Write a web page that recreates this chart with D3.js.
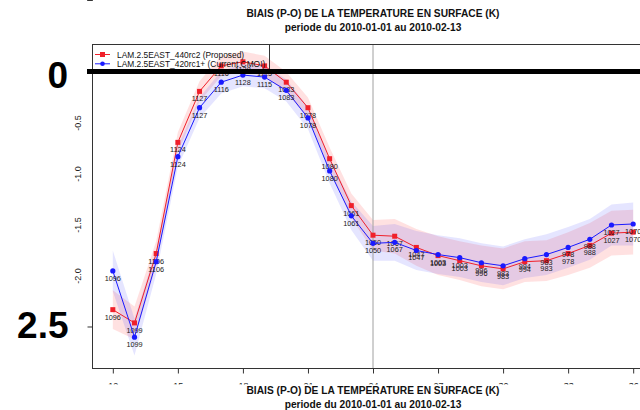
<!DOCTYPE html>
<html>
<head>
<meta charset="utf-8">
<script src="https://cdn.jsdelivr.net/npm/d3@7"></script>
<style>
  html, body { margin: 0; padding: 0; background: #fff; }
  svg { display: block; font-family: "Liberation Sans", Arial, Helvetica, sans-serif; }
</style>
</head>
<body>
<svg id="chart" width="640" height="410"></svg>
<script>
// Forecast hour of each validation point
const hours = [12, 13, 14, 15, 16, 17, 18, 19, 20, 21, 22, 23, 24,
               25, 26, 27, 28, 29, 30, 31, 32, 33, 34, 35, 36];
// Number of observations behind each point
const counts = [1096, 1099, 1106, 1124, 1127, 1116, 1128, 1115, 1083, 1078, 1080, 1061, 1050,
                1067, 1047, 1003, 1003, 996, 983, 994, 983, 978, 988, 1027, 1070];
// Mean bias (K), proposed configuration
const biasProposed = [-2.33, -2.46, -1.78, -0.69, -0.19, 0.06, 0.10, 0.06, -0.10, -0.35, -0.85, -1.31, -1.60,
                      -1.61, -1.72, -1.80, -1.85, -1.90, -1.93, -1.86, -1.85, -1.78, -1.70, -1.58, -1.57];
// Mean bias (K), current operational configuration
const biasCurrent = [-1.95, -2.60, -1.86, -0.83, -0.35, -0.10, -0.03, -0.05, -0.18, -0.45, -0.97, -1.41, -1.68,
                     -1.67, -1.75, -1.79, -1.82, -1.87, -1.90, -1.83, -1.79, -1.72, -1.64, -1.50, -1.49];
// Half-width of the confidence band around each mean
const spreadProposed = [0.19, 0.16, 0.12, 0.10, 0.10, 0.10, 0.10, 0.10, 0.10, 0.10, 0.11, 0.12, 0.15,
                        0.17, 0.18, 0.19, 0.19, 0.20, 0.20, 0.20, 0.20, 0.21, 0.22, 0.22, 0.22];
const spreadCurrent = [0.20, 0.18, 0.12, 0.10, 0.10, 0.11, 0.11, 0.11, 0.11, 0.11, 0.12, 0.14, 0.17,
                       0.18, 0.19, 0.19, 0.19, 0.19, 0.19, 0.19, 0.20, 0.20, 0.20, 0.20, 0.21];
const seriesNames = ["LAM.2.5EAST_440rc2 (Proposed)", "LAM.2.5EAST_420rc1+ (Current CMOI)"];
const xTicks = [12, 15, 18, 21, 24, 27, 30, 33, 36];
const yTicks = [0, -0.5, -1.0, -1.5, -2.0, -2.5];
const titleText = "BIAIS (P-O) DE LA TEMPERATURE EN SURFACE (K)";
const subtitleText = "periode du 2010-01-01 au 2010-02-13";

const svg = d3.select("#chart");
const plot = { left: 92, top: 44, right: 654, bottom: 368 };

const x = d3.scaleLinear().domain([11.04, 36.96]).range([plot.left, plot.right]);
const y = d3.scaleLinear().domain([0.2745, -2.902]).range([plot.top, plot.bottom]);

const series = [
  { name: seriesNames[0], values: biasProposed, spread: spreadProposed,
    color: "#f0202a", band: "rgba(255,40,40,0.14)", shape: "square" },
  { name: seriesNames[1], values: biasCurrent, spread: spreadCurrent,
    color: "#1a1aff", band: "rgba(40,40,255,0.12)", shape: "circle" }
];

// Titles, top and bottom
function drawTitles(yTitle, ySub) {
  const cx = (plot.left + plot.right) / 2;
  svg.append("text").attr("x", cx).attr("y", yTitle).attr("text-anchor", "middle")
    .attr("font-size", 10.2).attr("font-weight", "bold").attr("fill", "#111").text(titleText);
  svg.append("text").attr("x", cx).attr("y", ySub).attr("text-anchor", "middle")
    .attr("font-size", 10.2).attr("font-weight", "bold").attr("fill", "#111").text(subtitleText);
}
drawTitles(16.5, 30.5);

// Confidence bands
const band = d3.area()
  .x((d, i) => x(hours[i]))
  .y0(d => y(d.lo))
  .y1(d => y(d.hi));
series.forEach(s => {
  const pts = s.values.map((v, i) => ({ lo: v - s.spread[i], hi: v + s.spread[i] }));
  svg.append("path").datum(pts).attr("d", band).attr("fill", s.band).attr("stroke", "none");
});

// Reference vertical line at 24 h
svg.append("line")
  .attr("x1", x(24)).attr("x2", x(24)).attr("y1", plot.top).attr("y2", plot.bottom)
  .attr("stroke", "#a0a0a0").attr("stroke-width", 1);

// Series lines and markers
const line = d3.line().x((d, i) => x(hours[i])).y(d => y(d));
series.forEach(s => {
  svg.append("path").datum(s.values).attr("d", line)
    .attr("fill", "none").attr("stroke", s.color).attr("stroke-width", 1);
  const g = svg.append("g");
  if (s.shape === "square") {
    g.selectAll("rect").data(s.values).join("rect")
      .attr("x", (d, i) => x(hours[i]) - 2.5).attr("y", d => y(d) - 2.5)
      .attr("width", 5).attr("height", 5).attr("fill", s.color);
  } else {
    g.selectAll("circle").data(s.values).join("circle")
      .attr("cx", (d, i) => x(hours[i])).attr("cy", d => y(d))
      .attr("r", 2.6).attr("fill", s.color);
  }
  // Observation counts under each point
  g.selectAll("text").data(s.values).join("text")
    .attr("x", (d, i) => x(hours[i])).attr("y", d => y(d) + 10)
    .attr("text-anchor", "middle").attr("font-size", 7.3).attr("fill", "#1a1a1a")
    .text((d, i) => counts[i]);
});

// Frame
svg.append("rect")
  .attr("x", plot.left + 0.5).attr("y", plot.top + 0.5)
  .attr("width", plot.right - plot.left).attr("height", plot.bottom - plot.top)
  .attr("fill", "none").attr("stroke", "#333").attr("stroke-width", 1);

// Y axis
const yAxis = d3.axisLeft(y).tickValues(yTicks).tickSize(5).tickPadding(5)
  .tickFormat(d => (d === 0 || d === -2.5) ? "" : d.toFixed(1));
const gy = svg.append("g").attr("transform", `translate(${plot.left + 0.5},0)`).call(yAxis);
gy.select(".domain").attr("stroke", "#333").attr("d", `M-5,${y(0)}H0V${y(-2.5)}H-5`);
gy.selectAll(".tick line").attr("stroke", "#333");
gy.selectAll(".tick text")
  .attr("font-size", 9).attr("fill", "#222")
  .attr("text-anchor", "middle")
  .attr("transform", "rotate(-90)")
  .attr("x", d => -y(d)).attr("y", 0).attr("dy", "-11.5");
gy.selectAll(".tick").attr("transform", null);

// X axis; its labels sit mostly under the lower title band
svg.append("defs").append("clipPath").attr("id", "xlab")
  .append("rect").attr("x", 0).attr("y", 360).attr("width", 640).attr("height", 24.5);
const xAxis = d3.axisBottom(x).tickValues(xTicks).tickSize(5).tickPadding(9)
  .tickFormat(d => String(d));
const clipWrap = svg.append("g").attr("clip-path", "url(#xlab)");
const gx = clipWrap.append("g").attr("transform", `translate(0,${plot.bottom + 0.5})`).call(xAxis);
gx.select(".domain").remove();
gx.selectAll(".tick line").attr("stroke", "#333");
gx.selectAll(".tick text").attr("font-size", 9).attr("fill", "#222");

// Legend: text sized so the longer entry fits inside the box
const legendBox = { x: plot.left + 0.5, y: plot.top + 0.5, w: 177, h: 27 };
const lg = svg.append("g");
lg.append("rect").attr("x", legendBox.x).attr("y", legendBox.y)
  .attr("width", legendBox.w).attr("height", legendBox.h).attr("fill", "none").attr("stroke", "#333");
const legendTexts = [];
series.forEach((s, i) => {
  const ly = 54.5 + i * 9.3;
  lg.append("line").attr("x1", 95).attr("x2", 110).attr("y1", ly).attr("y2", ly)
    .attr("stroke", s.color).attr("stroke-width", 1);
  if (s.shape === "square") {
    lg.append("rect").attr("x", 100).attr("y", ly - 2.5).attr("width", 5).attr("height", 5).attr("fill", s.color);
  } else {
    lg.append("circle").attr("cx", 102.5).attr("cy", ly).attr("r", 2.3).attr("fill", s.color);
  }
  legendTexts.push(lg.append("text").attr("x", 117).attr("y", ly + 3.3)
    .attr("font-size", 10).attr("fill", "#111").text(s.name));
});
const widest = d3.max(legendTexts, t => t.node().getComputedTextLength());
const legendFont = 10 * (legendBox.x + legendBox.w - 4 - 117) / widest;
legendTexts.forEach(t => t.attr("font-size", legendFont));

// Zero reference line with its emphasised labels
svg.append("line")
  .attr("x1", 87).attr("x2", 640).attr("y1", y(0) - 0.5).attr("y2", y(0) - 0.5)
  .attr("stroke", "#000").attr("stroke-width", 5);
svg.append("text").attr("x", 68).attr("y", 88).attr("text-anchor", "end")
  .attr("font-size", 37).attr("font-weight", "bold").attr("fill", "#000").text("0");
svg.append("text").attr("x", 68.5).attr("y", 338).attr("text-anchor", "end")
  .attr("font-size", 37).attr("font-weight", "bold").attr("fill", "#000").text("2.5");

// Lower repeat of the title
drawTitles(394, 408);
</script>
</body>
</html>
